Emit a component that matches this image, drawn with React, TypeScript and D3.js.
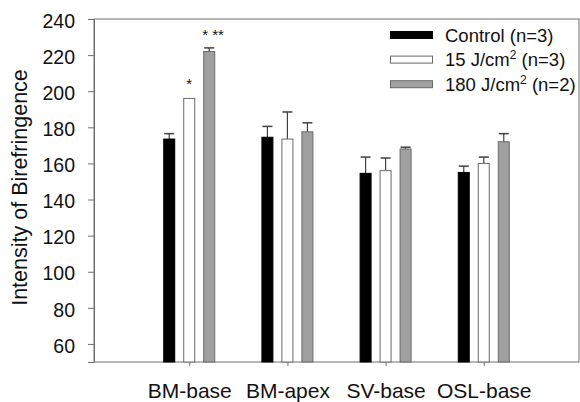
import React, { useEffect, useRef } from "react"
import * as d3 from "d3"

const categories = ["BM-base", "BM-apex", "SV-base", "OSL-base"]
const seriesNames = ["Control (n=3)", "15 J/cm2 (n=3)", "180 J/cm2 (n=2)"]
const controlValues = [173.5, 174.5, 154.5, 155]
const controlErrors = [3, 6, 9, 3.5]
const lowDoseValues = [196, 173.5, 156, 160]
const lowDoseErrors = [0, 15, 7, 3.5]
const highDoseValues = [222, 177.5, 168, 172]
const highDoseErrors = [2, 5, 1, 4.5]
const yTicks = [60, 80, 100, 120, 140, 160, 180, 200, 220, 240]

const fills = ["#000000", "#ffffff", "#a0a0a0"]
const strokes = ["#000000", "#6a6a6a", "#6a6a6a"]

const W = 580
const H = 402

const App = () => {
    const ref = useRef<SVGSVGElement | null>(null)

    useEffect(() => {
        if (!ref.current) return
        const svg = d3.select(ref.current)
        svg.selectAll("*").remove()

        const left = 94, right = 579, top = 19, bottom = 362
        const font = "Arial, 'Liberation Sans', sans-serif"
        const axisColor = "#707070"

        const x0 = d3.scalePoint<string>().domain(categories).range([left, right]).padding(0.97)
        const x1 = d3
            .scaleBand<number>()
            .domain([0, 1, 2])
            .range([-30, 30])
            .paddingInner(0.4)
            .paddingOuter(0.2)
        const y = d3.scaleLinear().domain([50, 240]).range([bottom, top])

        const series = [
            { values: controlValues, errors: controlErrors },
            { values: lowDoseValues, errors: lowDoseErrors },
            { values: highDoseValues, errors: highDoseErrors },
        ]

        // frame
        svg.append("rect")
            .attr("x", left)
            .attr("y", top)
            .attr("width", right - left)
            .attr("height", bottom - top)
            .attr("fill", "none")
            .attr("stroke", axisColor)
            .attr("stroke-width", 1)

        // bars + error bars
        series.forEach((s, si) => {
            const g = svg.append("g")
            categories.forEach((c, ci) => {
                const bx = (x0(c) as number) + (x1(si) as number)
                const bw = x1.bandwidth()
                const v = s.values[ci]
                const e = s.errors[ci]
                const cx = bx + bw / 2
                if (e > 0) {
                    g.append("line")
                        .attr("x1", cx).attr("x2", cx)
                        .attr("y1", y(v)).attr("y2", y(v + e))
                        .attr("stroke", "#404040").attr("stroke-width", 1.2)
                    g.append("line")
                        .attr("x1", cx - 5).attr("x2", cx + 5)
                        .attr("y1", y(v + e)).attr("y2", y(v + e))
                        .attr("stroke", "#404040").attr("stroke-width", 1.5)
                }
                g.append("rect")
                    .attr("x", bx + 0.5)
                    .attr("y", y(v))
                    .attr("width", bw - 1)
                    .attr("height", y(50) - y(v))
                    .attr("fill", fills[si])
                    .attr("stroke", strokes[si])
                    .attr("stroke-width", 1)
            })
        })

        // y axis
        const yAxis = svg.append("g")
            .attr("transform", `translate(${left},0)`)
            .call(d3.axisLeft(y).tickValues(yTicks).tickSize(6).tickPadding(13))
        yAxis.select(".domain").attr("stroke", axisColor)
        yAxis.selectAll(".tick line").attr("stroke", axisColor)
        yAxis.selectAll(".tick text")
            .attr("fill", "#111")
            .attr("font-family", font)
            .attr("font-size", 19.5)
            .attr("dy", "0.42em")

        // x axis
        const xAxis = svg.append("g")
            .attr("transform", `translate(0,${bottom})`)
            .call(d3.axisBottom(x0).tickSize(4).tickPadding(17))
        xAxis.select(".domain").remove()
        xAxis.selectAll(".tick line").attr("stroke", axisColor)
        xAxis.selectAll(".tick text")
            .attr("fill", "#111")
            .attr("font-family", font)
            .attr("font-size", 21)

        // y label
        svg.append("text")
            .attr("transform", `translate(27,${(top + bottom) / 2 - 3}) rotate(-90)`)
            .attr("text-anchor", "middle")
            .attr("font-family", font)
            .attr("font-size", 21.5)
            .attr("fill", "#111")
            .text("Intensity of Birefringence")

        // significance stars
        const starX1 = (x0("BM-base") as number) + (x1(1) as number) + x1.bandwidth() / 2
        const starX2 = (x0("BM-base") as number) + (x1(2) as number) + x1.bandwidth() / 2
        svg.append("text")
            .attr("x", starX1)
            .attr("y", y(lowDoseValues[0]) - 9)
            .attr("text-anchor", "middle")
            .attr("font-family", font)
            .attr("font-size", 15)
            .attr("fill", "#111")
            .text("*")
        svg.append("text")
            .attr("x", starX2 - 7)
            .attr("y", y(highDoseValues[0] + highDoseErrors[0]) - 8)
            .attr("text-anchor", "start")
            .attr("font-family", font)
            .attr("font-size", 15)
            .attr("fill", "#111")
            .text("* **")

        // legend
        const legend = svg.append("g").attr("transform", "translate(390,35)")
        seriesNames.forEach((name, i) => {
            const row = legend.append("g").attr("transform", `translate(0,${i * 24.6})`)
            row.append("rect")
                .attr("x", 0.5).attr("y", -3.5)
                .attr("width", 42).attr("height", 7)
                .attr("fill", fills[i])
                .attr("stroke", strokes[i])
            const t = row.append("text")
                .attr("x", 55)
                .attr("y", 6.5)
                .attr("font-family", font)
                .attr("font-size", 18.5)
                .attr("fill", "#111")
            const m = name.match(/^(.*cm)2(.*)$/)
            if (m) {
                t.append("tspan").text(m[1])
                t.append("tspan").attr("dy", -7).attr("font-size", 12).text("2")
                t.append("tspan").attr("dy", 7).text(m[2])
            } else {
                t.text(name)
            }
        })
    }, [])

    return (
        <svg
            ref={ref}
            width={W}
            height={H}
            style={{ position: "absolute", left: 0, top: 0, background: "#fff" }}
        />
    )
}

export default App
